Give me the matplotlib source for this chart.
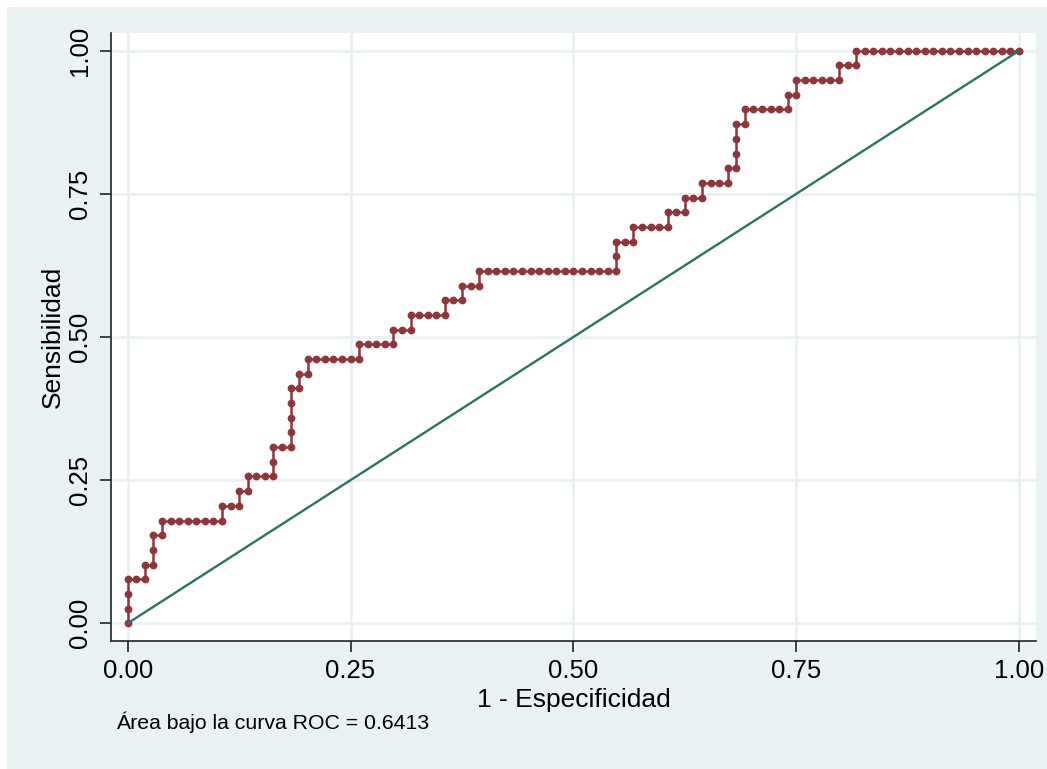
import matplotlib.pyplot as plt
import matplotlib.patches as patches
import numpy as np

# cantidad de positivos / negativos
n_pos = 39
n_neg = 104

# saltos de la curva: sube tp_steps, luego avanza fp_steps (alternando)
tp_steps = [3, 1, 2, 1, 1, 1, 1, 2, 4, 1, 1, 1, 1, 1, 1, 1, 1, 2, 1, 1, 1, 1, 1, 3, 1, 1, 1, 1, 1]
fp_steps = [2, 1, 1, 7, 2, 1, 3, 2, 1, 1, 6, 4, 2, 4, 2, 2, 16, 2, 4, 2, 2, 3, 1, 1, 5, 1, 5, 2, 19]

ticks = [0.0, 0.25, 0.5, 0.75, 1.0]
tick_labels = ["0.00", "0.25", "0.50", "0.75", "1.00"]
auc_text = "Área bajo la curva ROC = 0.6413"

# puntos de corte (cada punto = un umbral)
fp = [0]
tp = [0]
for up, right in zip(tp_steps, fp_steps):
    for _ in range(up):
        fp.append(fp[-1])
        tp.append(tp[-1] + 1)
    for _ in range(right):
        fp.append(fp[-1] + 1)
        tp.append(tp[-1])
x = np.array(fp) / n_neg
y = np.array(tp) / n_pos

plt.rcParams["font.family"] = ["Liberation Sans", "DejaVu Sans"]

fig = plt.figure(figsize=(10.47, 7.69), dpi=100, facecolor="white")
bg = patches.Rectangle((7 / 1047, 0), 1 - 7 / 1047, 1 - 7 / 769,
                       transform=fig.transFigure, facecolor="#eaf1f3",
                       edgecolor="none", zorder=-10)
fig.patches.append(bg)

ax = fig.add_axes([111 / 1047, 1 - 640.7 / 769, (1036 - 111) / 1047, (640.7 - 33) / 769])
ax.set_facecolor("white")

ax.plot(x, y, color="#90353b", lw=1.8, marker="o", markersize=4.6, zorder=3)
ax.plot([0, 1], [0, 1], color="#2b7366", lw=1.7, zorder=4)

ax.set_xlim(-0.0187, 1.019)
ax.set_ylim(-0.0304, 1.031)
ax.set_xticks(ticks)
ax.set_xticklabels(tick_labels)
ax.set_yticks(ticks)
ax.set_yticklabels(tick_labels, rotation=90, va="center")
ax.grid(True, color="#eaf1f3", lw=2)
ax.set_axisbelow(True)

for s in ["top", "right"]:
    ax.spines[s].set_visible(False)
for s in ["left", "bottom"]:
    ax.spines[s].set_color("#222222")
    ax.spines[s].set_linewidth(1.2)
ax.tick_params(axis="both", length=8, width=1.2, color="#222222", labelsize=18.5)
ax.tick_params(axis="x", pad=5)
ax.tick_params(axis="y", pad=6)

ax.set_xlabel("1 - Especificidad", fontsize=19, labelpad=4)
ax.set_ylabel("Sensibilidad", fontsize=19, labelpad=2)

fig.text(116 / 1047, 1 - 729 / 769, auc_text, fontsize=15.3, va="baseline", ha="left")

fig.savefig("out.png", dpi=100, facecolor=fig.get_facecolor())
